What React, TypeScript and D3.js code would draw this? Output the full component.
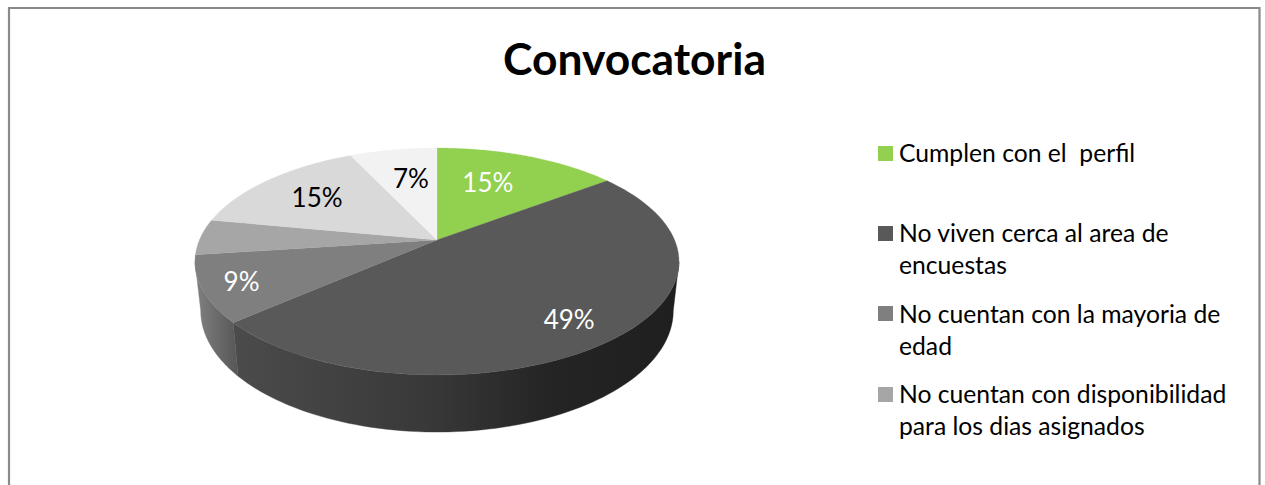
import React, { useMemo } from "react";
import * as d3 from "d3";

const categories = [
  "Cumplen con el  perfil",
  "No viven cerca al area de encuestas",
  "No cuentan con la mayoria de edad",
  "No cuentan con disponibilidad para los dias asignados",
  "Otros",
  "Otros 2",
];
const values = [14.7, 48.8, 9.4, 5.1, 15, 7];
const sliceColors = ["#92d050", "#595959", "#7f7f7f", "#a6a6a6", "#d9d9d9", "#f2f2f2"];
const labelColors = ["#ffffff", "#ffffff", "#ffffff", "", "#000000", "#000000"];
const showLabel = [true, true, true, false, true, true];
const labelRadius = [0.66, 0.81, 0.84, 0, 0.69, 0.65];
const labelNudge = [-12, -6, -1, 0, 0, 4];
const labelLift = [0, 1, 0, 0, 0, 0];
const legendLines = [
  ["Cumplen con el  perfil"],
  ["No viven cerca al area de", "encuestas"],
  ["No cuentan con la mayoria de", "edad"],
  ["No cuentan con disponibilidad", "para los dias asignados"],
];
const legendSwatchY = [146, 226, 306, 387];
const legendFirstBaseline = [162, 242, 323, 403];
const FONT = "Lato, Carlito, Calibri, sans-serif";

const topFace = { cx: 437, cy: 240, a: 237.6, c: 109.4, b: 0.1894 };
const bottomFace = { cx: 437, cy: 287.7, a: 232, c: 117, b: 0.1894 };
type Face = typeof topFace;

function project(f: Face, theta: number, r = 1): [number, number] {
  const u = Math.sin(theta) * r;
  const v = -Math.cos(theta) * r;
  const w = 1 - f.b * v;
  return [f.cx + (f.a * u) / w, f.cy + (f.c * v) / w];
}
const arcPts = (f: Face, t0: number, t1: number) =>
  d3.range(0, 81).map((i) => project(f, t0 + ((t1 - t0) * i) / 80));
const toPath = (pts: [number, number][]) => d3.line()(pts) + "Z";

export default function App() {
  const arcs = useMemo(
    () => d3.pie<number>().sort(null).startAngle(0).endAngle(2 * Math.PI)(values),
    []
  );
  const silhouetteA = (Math.PI / 180) * 101;
  const silhouetteB = (Math.PI / 180) * 259;

  return (
    <svg
      width={1265}
      height={485}
      viewBox="0 0 1265 485"
      style={{ position: "absolute", left: 0, top: 0, display: "block", background: "#fff" }}
    >
      <defs>
        <linearGradient id="side1" gradientUnits="userSpaceOnUse" x1={235} x2={675} y1={0} y2={0}>
          <stop offset="0" stopColor="#4b4b4b" />
          <stop offset="0.45" stopColor="#383838" />
          <stop offset="0.72" stopColor="#242424" />
          <stop offset="1" stopColor="#1f1f1f" />
        </linearGradient>
        <linearGradient id="side2" gradientUnits="userSpaceOnUse" x1={197} x2={238} y1={0} y2={0}>
          <stop offset="0" stopColor="#7f7f7f" />
          <stop offset="1" stopColor="#565656" />
        </linearGradient>
      </defs>

      <path d="M9 485V8H1259.5V485" fill="none" stroke="#8a8a8a" strokeWidth={2.2} />

      {arcs.map((d, i) => {
        const t0 = Math.max(d.startAngle, silhouetteA);
        const t1 = Math.min(d.endAngle, silhouetteB);
        if (t1 <= t0) return null;
        const pts = [...arcPts(topFace, t0, t1), ...arcPts(bottomFace, t0, t1).reverse()];
        const fill = i === 1 ? "url(#side1)" : "url(#side2)";
        return <path key={i} d={toPath(pts)} fill={fill} stroke={fill} strokeWidth={0.4} />;
      })}

      {arcs.map((d, i) => (
        <path
          key={i}
          d={toPath([[topFace.cx, topFace.cy], ...arcPts(topFace, d.startAngle, d.endAngle)])}
          fill={sliceColors[i]}
          stroke={sliceColors[i]}
          strokeWidth={0.3}
        />
      ))}

      {arcs.map((d, i) => {
        if (!showLabel[i]) return null;
        const [x, y] = project(topFace, (d.startAngle + d.endAngle) / 2, labelRadius[i]);
        return (
          <text
            key={i}
            x={x + labelNudge[i]}
            y={y + labelLift[i]}
            textAnchor="middle"
            dominantBaseline="central"
            fontFamily={FONT}
            fontSize={26}
            fill={labelColors[i]}
          >
            {Math.round(values[i])}%
          </text>
        );
      })}

      <text x={634.5} y={75} textAnchor="middle" fontFamily={FONT} fontWeight={700} fontSize={44.4} fill="#000">
        Convocatoria
      </text>

      {legendLines.map((lines, i) => (
        <g key={i}>
          <rect x={878} y={legendSwatchY[i]} width={15} height={15} fill={sliceColors[i]} />
          {lines.map((t, j) => (
            <text
              key={j}
              x={899}
              y={legendFirstBaseline[i] + j * 32}
              fontFamily={FONT}
              fontSize={24.7}
              fill="#000"
              style={{ whiteSpace: "pre" }}
            >
              {t}
            </text>
          ))}
        </g>
      ))}
    </svg>
  );
}
